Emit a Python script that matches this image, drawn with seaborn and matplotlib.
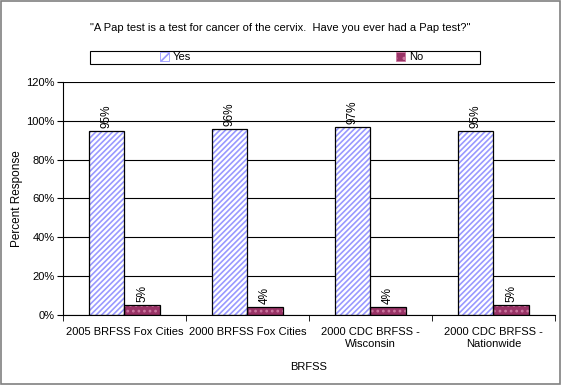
import pandas as pd
import seaborn as sns
import matplotlib.pyplot as plt
from matplotlib.patches import Rectangle
from matplotlib.ticker import PercentFormatter, FixedLocator

categories = ['2005 BRFSS Fox Cities', '2000 BRFSS Fox Cities',
              '2000 CDC BRFSS -\nWisconsin', '2000 CDC BRFSS -\nNationwide']
yes_values = [95, 96, 97, 95]
no_values = [5, 4, 4, 5]
answers = ['Yes', 'No']

df = pd.DataFrame({
    'survey': categories * 2,
    'answer': ['Yes'] * 4 + ['No'] * 4,
    'pct': yes_values + no_values,
})

sns.set_style('white')
plt.rcParams['font.family'] = ['Liberation Sans', 'DejaVu Sans']
plt.rcParams['text.color'] = 'black'
plt.rcParams['axes.labelcolor'] = 'black'
plt.rcParams['xtick.color'] = 'black'
plt.rcParams['ytick.color'] = 'black'
plt.rcParams['hatch.linewidth'] = 1.2

fig = plt.figure(figsize=(5.61, 3.85), dpi=100)
ax = fig.add_axes([0.112, 0.182, 0.877, 0.605])

sns.barplot(data=df, x='survey', y='pct', hue='answer', hue_order=answers,
            palette={'Yes': 'white', 'No': '#993366'}, width=0.58,
            saturation=1, legend=False, ax=ax)

# hatch styles: blue stripes for Yes, light dots for No
styles = {'Yes': ('white', '#9999ff', '//////'), 'No': ('#993366', '#cc77a0', '...')}
for container, ans in zip(ax.containers, answers):
    face, hcol, hatch = styles[ans]
    for bar in container:
        bar.set_facecolor(face)
        bar.set_edgecolor(hcol)
        bar.set_hatch(hatch)
        bar.set_linewidth(0)
        ax.add_patch(Rectangle(bar.get_xy(), bar.get_width(), bar.get_height(),
                               fill=False, edgecolor='black', linewidth=0.9, zorder=3))
    ax.bar_label(container, labels=[f'{v:.0f}%' for v in container.datavalues],
                 rotation=90, padding=2, fontsize=8.5)

ax.set_ylim(0, 120)
ax.set_yticks(range(0, 121, 20))
ax.yaxis.set_major_formatter(PercentFormatter(decimals=0))
ax.set_xlim(-0.5, len(categories) - 0.5)
ax.grid(axis='y', color='black', linewidth=0.8)
ax.set_axisbelow(True)
sns.despine(ax=ax, top=True, right=True)
for side in ['left', 'bottom']:
    ax.spines[side].set_color('black')
    ax.spines[side].set_linewidth(0.8)

ax.tick_params(axis='x', which='major', length=0, labelsize=8, pad=9)
ax.tick_params(axis='y', which='major', length=4, direction='out', left=True,
               labelsize=8, pad=2)
ax.xaxis.set_minor_locator(FixedLocator([i - 0.5 for i in range(len(categories) + 1)]))
ax.tick_params(axis='x', which='minor', length=4, direction='out', bottom=True)

ax.set_xlabel('BRFSS', fontsize=8, labelpad=9)
ax.set_ylabel('Percent Response', fontsize=8.5, labelpad=2)

fig.text(0.5, 0.928, '"A Pap test is a test for cancer of the cervix.  Have you ever had a Pap test?"',
         ha='center', va='center', fontsize=8)

handles = [Rectangle((0, 0), 1, 1, facecolor=styles[a][0], edgecolor=styles[a][1],
                     hatch='///' if a == 'Yes' else '..', linewidth=0.6) for a in answers]
leg = fig.legend(handles, answers, loc='center', ncol=2, frameon=False,
                 bbox_to_anchor=(0.52, 0.851), fontsize=8,
                 handlelength=0.8, handleheight=0.8, handletextpad=0.3,
                 columnspacing=18.5)
# legend box spanning the width like the original
fig.patches.append(Rectangle((0.161, 0.835), 0.695, 0.032, transform=fig.transFigure,
                             fill=False, edgecolor='black', linewidth=0.8))

fig.patches.append(Rectangle((0.002, 0.003), 0.996, 0.994, transform=fig.transFigure,
                             fill=False, edgecolor='#808080', linewidth=1.2))

plt.savefig('out.png', dpi=100)
